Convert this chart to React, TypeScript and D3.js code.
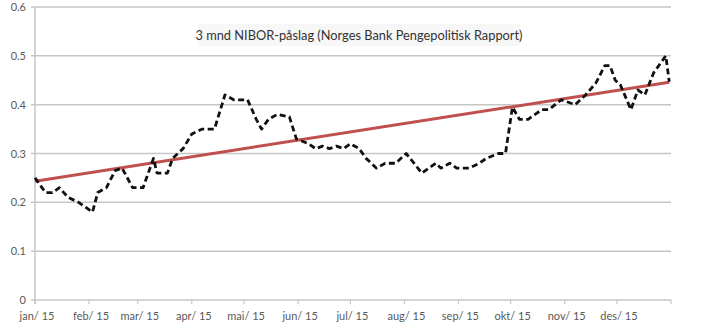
import React from "react";
import * as d3 from "d3";

const dates: string[] = [
  "2015-01-01","2015-01-07","2015-01-11","2015-01-15","2015-01-20","2015-01-26","2015-01-30",
  "2015-02-03","2015-02-06","2015-02-11","2015-02-16","2015-02-20","2015-02-26",
  "2015-03-04","2015-03-10","2015-03-12","2015-03-18","2015-03-21","2015-03-27",
  "2015-04-01","2015-04-07","2015-04-14","2015-04-20","2015-04-25",
  "2015-05-03","2015-05-08","2015-05-11","2015-05-15","2015-05-20","2015-05-27","2015-05-31",
  "2015-06-07","2015-06-11","2015-06-15","2015-06-19","2015-06-23","2015-06-27",
  "2015-07-01","2015-07-06","2015-07-10","2015-07-16","2015-07-21","2015-07-27",
  "2015-08-02","2015-08-11","2015-08-19","2015-08-22","2015-08-27","2015-08-31",
  "2015-09-07","2015-09-13","2015-09-17","2015-09-24","2015-09-28",
  "2015-10-02","2015-10-06","2015-10-11","2015-10-19","2015-10-23","2015-10-30",
  "2015-11-07","2015-11-13","2015-11-19","2015-11-24","2015-11-27","2015-11-30",
  "2015-12-03","2015-12-09","2015-12-13","2015-12-17","2015-12-22","2015-12-29","2015-12-31",
];

const values: number[] = [
  0.25,0.22,0.22,0.23,0.21,0.20,0.19,
  0.18,0.22,0.23,0.265,0.27,0.23,
  0.23,0.29,0.26,0.26,0.29,0.31,
  0.34,0.35,0.35,0.42,0.41,
  0.41,0.37,0.35,0.37,0.38,0.375,0.33,
  0.32,0.31,0.315,0.31,0.315,0.31,
  0.32,0.31,0.29,0.27,0.28,0.28,
  0.30,0.26,0.28,0.27,0.28,0.27,
  0.27,0.28,0.29,0.30,0.30,
  0.395,0.37,0.37,0.39,0.39,0.41,
  0.40,0.42,0.445,0.48,0.48,0.45,
  0.44,0.39,0.43,0.42,0.465,0.50,0.447,
];

const trendDates: string[] = ["2015-01-01", "2015-12-31"];
const trendValues: number[] = [0.243, 0.446];

const yTicks: number[] = [0, 0.1, 0.2, 0.3, 0.4, 0.5, 0.6];
const monthLabels: string[] = ["jan/ 15","feb/ 15","mar/ 15","apr/ 15","mai/ 15","jun/ 15","jul/ 15","aug/ 15","sep/ 15","okt/ 15","nov/ 15","des/ 15"];

const title = "3 mnd NIBOR-påslag (Norges Bank Pengepolitisk Rapport)";

export default function App() {
  const W = 712, H = 325;
  const parse = d3.timeParse("%Y-%m-%d");
  const x = d3.scaleTime()
    .domain([new Date(2015, 0, 1), new Date(2016, 0, 1)])
    .range([35, 671]);
  const y = d3.scaleLinear().domain([0, 0.6]).range([300, 7]);

  const data = dates.map((d, i) => ({ d: parse(d) as Date, v: values[i] }));
  const trend = trendDates.map((d, i) => ({ d: parse(d) as Date, v: trendValues[i] }));
  const line = d3.line<{ d: Date; v: number }>().x(p => x(p.d)).y(p => y(p.v));
  const months = d3.range(12).map(m => new Date(2015, m, 1));

  const font = "Lato, 'Open Sans', 'Liberation Sans', sans-serif";
  const grid = "#c6c6c6";

  return (
    <svg width={W} height={H} style={{ position: "absolute", left: 0, top: 0, background: "#fff" }}>
      {yTicks.map(t => (
        <g key={t}>
          <line x1={31} x2={671} y1={y(t)} y2={y(t)} stroke={grid} strokeWidth={1.5} />
          <text x={26} y={y(t) + 4} textAnchor="end" fontSize={11} fill="#595959" fontFamily={font}>
            {t === 0 ? "0" : t.toFixed(1)}
          </text>
        </g>
      ))}
      <line x1={35} x2={35} y1={y(0.6)} y2={y(0) + 4} stroke={grid} strokeWidth={1.5} />
      {months.map((m, i) => (
        <g key={i}>
          <line x1={x(m)} x2={x(m)} y1={300} y2={304} stroke={grid} strokeWidth={1.2} />
          <text x={x(m) + 2} y={320} textAnchor="middle" fontSize={11} fill="#595959" fontFamily={font}>
            {monthLabels[i]}
          </text>
        </g>
      ))}
      <line x1={671} x2={671} y1={300} y2={304} stroke={grid} strokeWidth={1.2} />
      <rect x={198} y={24} width={322} height={22} fill="#f7f7f7" />
      <text x={359} y={40} textAnchor="middle" fontSize={12.8} fill="#333" fontFamily={font}>
        {title}
      </text>
      <path d={line(trend) || ""} fill="none" stroke="#c0504d" strokeWidth={3} />
      <path d={line(data) || ""} fill="none" stroke="#111" strokeWidth={2.8} strokeDasharray="6,3.5" strokeLinejoin="round" />
    </svg>
  );
}
